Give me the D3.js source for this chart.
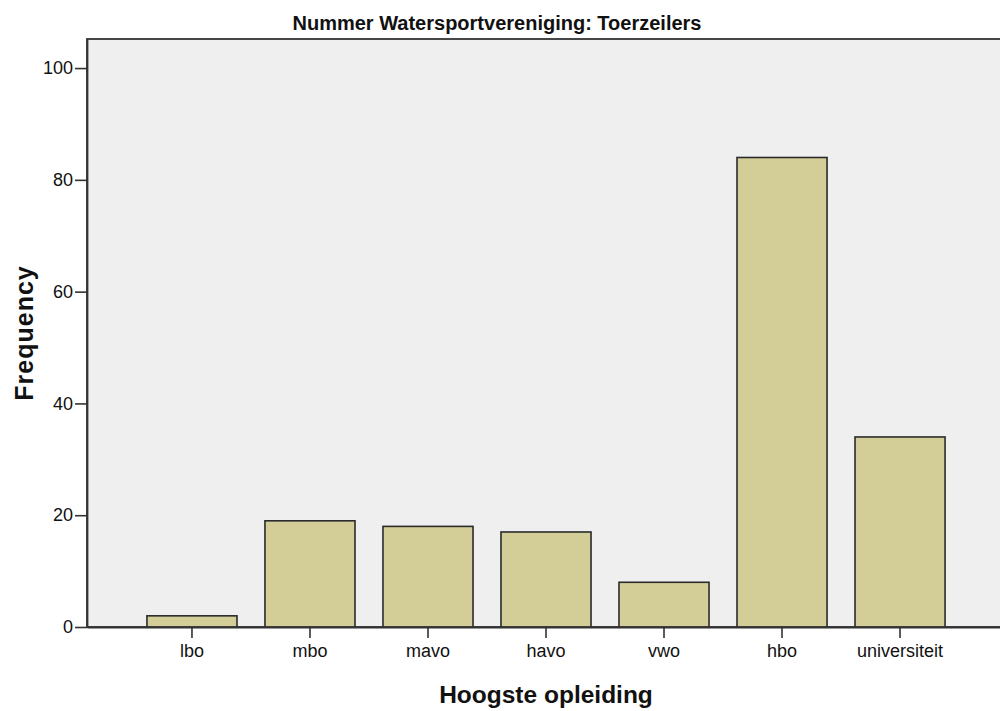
<!DOCTYPE html>
<html>
<head>
<meta charset="utf-8">
<script src="https://cdn.jsdelivr.net/npm/d3@7"></script>
<style>
  html, body { margin: 0; padding: 0; background: #fff; }
  text { font-family: "Liberation Sans", Arial, sans-serif; fill: #111; }
</style>
</head>
<body>
<script>

var w = 1000, h = 711;

// data
var categories = ["lbo", "mbo", "mavo", "havo", "vwo", "hbo", "universiteit"];
var frequency = [2, 19, 18, 17, 8, 84, 34];
var yTicks = [0, 20, 40, 60, 80, 100];
var yMax = 105.2;

var chartTitle = "Nummer Watersportvereniging: Toerzeilers";
var xTitle = "Hoogste opleiding";
var yTitle = "Frequency";

// plot area (right edge runs past the window)
// note: "top" is taken by window.top, so prefix these
var plotLeft = 87, plotRight = 1005, plotTop = 39, plotBottom = 627;

var svg = d3.select("body").append("svg")
  .attr("width", w)
  .attr("height", h);

var x = d3.scaleBand()
  .domain(categories)
  .range([plotLeft, plotRight])
  .paddingInner(0.237)
  .paddingOuter(0.508);

var y = d3.scaleLinear()
  .domain([0, yMax])
  .range([plotBottom, plotTop]);

// plot background + frame
svg.append("rect")
  .attr("x", plotLeft)
  .attr("y", plotTop)
  .attr("width", plotRight - plotLeft)
  .attr("height", plotBottom - plotTop)
  .attr("fill", "#efefef")
  .attr("stroke", "#333")
  .attr("stroke-width", 1.8);

// bars
svg.selectAll("rect.bar")
  .data(categories)
  .enter()
  .append("rect")
  .attr("class", "bar")
  .attr("x", function(d){ return x(d); })
  .attr("width", x.bandwidth())
  .attr("y", function(d, i){ return y(frequency[i]); })
  .attr("height", function(d, i){ return plotBottom - y(frequency[i]); })
  .attr("fill", "#d3ce97")
  .attr("stroke", "#2b2b2b")
  .attr("stroke-width", 1.6);

// axes
var yAxis = svg.append("g")
  .attr("transform", "translate(" + plotLeft + ",0)")
  .call(d3.axisLeft(y).tickValues(yTicks).tickSize(12).tickSizeOuter(0).tickPadding(2).tickFormat(d3.format("d")));

var xAxis = svg.append("g")
  .attr("transform", "translate(0," + plotBottom + ")")
  .call(d3.axisBottom(x).tickSize(11).tickSizeOuter(0).tickPadding(6));

[yAxis, xAxis].forEach(function(g){
  g.select(".domain").attr("stroke", "#333").attr("stroke-width", 1.8);
  g.selectAll(".tick line").attr("stroke", "#333").attr("stroke-width", 1.6);
  g.selectAll(".tick text")
    .attr("font-size", "18px")
    .attr("font-family", "'Liberation Sans', Arial, sans-serif")
    .attr("fill", "#111");
});

// titles
svg.append("text")
  .attr("x", 497)
  .attr("y", 30)
  .attr("text-anchor", "middle")
  .attr("font-size", "20px")
  .attr("font-weight", "bold")
  .text(chartTitle);

svg.append("text")
  .attr("x", (plotLeft + plotRight) / 2)
  .attr("y", 703)
  .attr("text-anchor", "middle")
  .attr("font-size", "24.5px")
  .attr("font-weight", "bold")
  .text(xTitle);

svg.append("text")
  .attr("transform", "translate(33," + ((plotTop + plotBottom) / 2) + ") rotate(-90)")
  .attr("text-anchor", "middle")
  .attr("font-size", "25px")
  .attr("letter-spacing", "1px")
  .attr("font-weight", "bold")
  .text(yTitle);

</script>
</body>
</html>
